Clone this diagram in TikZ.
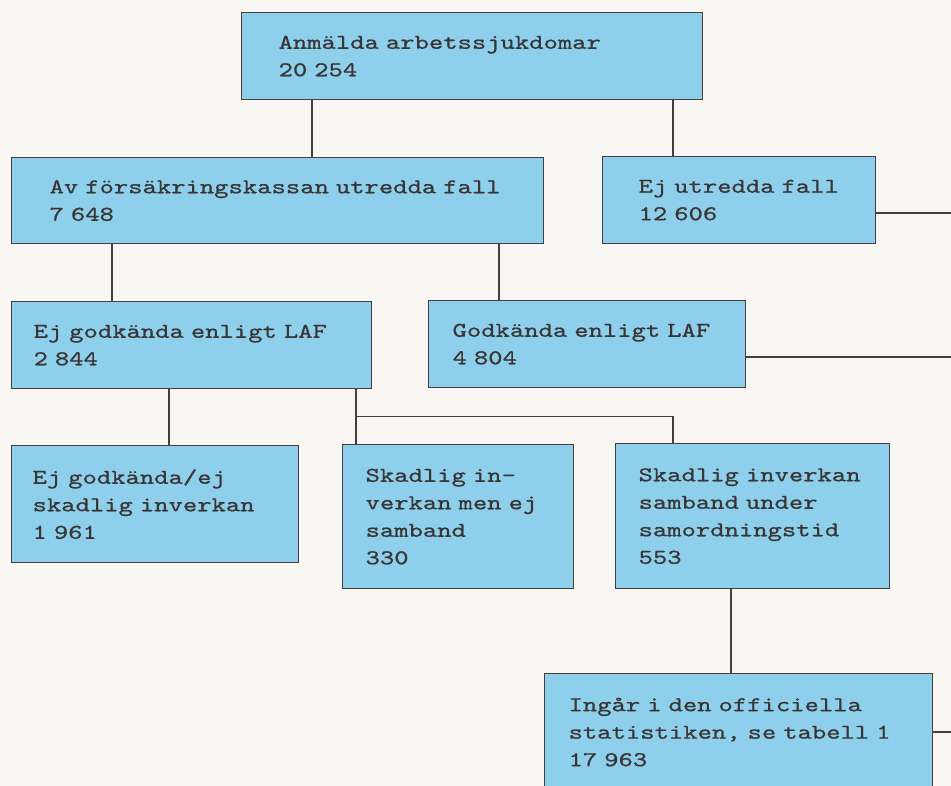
\documentclass[tikz,border=0pt]{standalone}
\usepackage{fontspec}
\newfontfamily\tw{lmmono10-regular.otf}[FakeStretch=1.3,FakeBold=0.8]
\definecolor{boxblue}{RGB}{142,208,236}
\definecolor{edge}{RGB}{72,62,62}
\definecolor{ink}{RGB}{58,54,54}
\definecolor{paper}{RGB}{248,247,243}
\tikzset{
  box/.style={draw=edge, fill=boxblue, line width=1.2pt, anchor=north west,
    align=left, text=ink, inner ysep=0pt,
    font=\tw\fontsize{21}{27.5}\selectfont},
  link/.style={draw=edge, line width=1.1pt}
}
\begin{document}
\begin{tikzpicture}[x=1pt,y=-1pt]
\fill[paper] (0,0) rectangle (951,786);
\useasboundingbox (0,0) rectangle (951,786);

% top:
\node[box, text width=387pt, inner xsep=37pt, minimum height=87pt] (anm) at (241,12)
  {Anmälda arbetssjukdomar\\20 254};

% second row:
\node[box, text width=456pt, inner xsep=38pt, minimum height=86pt] (utr) at (11,157)
  {Av försäkringskassan utredda fall\\7 648};
\node[box, text width=201pt, inner xsep=36pt, minimum height=87pt] (ejutr) at (602,156)
  {Ej utredda fall\\12 606};

% third row:
\node[box, text width=316pt, inner xsep=22pt, minimum height=87pt] (ejgod) at (11,301)
  {Ej godkända enligt LAF\\2 844};
\node[box, text width=269pt, inner xsep=24pt, minimum height=87pt] (god) at (428,300)
  {Godkända enligt LAF\\4 804};

% fourth row:
\node[box, text width=245pt, inner xsep=21pt, minimum height=117pt] (ejskad) at (11,445)
  {Ej godkända/ej\\skadlig inverkan\\1 961};
\node[box, text width=185pt, inner xsep=23pt, minimum height=144pt] (skadej) at (342,444)
  {Skadlig in-\\verkan men ej\\samband\\330};
\node[box, text width=228pt, inner xsep=23pt, minimum height=145pt] (skadsam) at (615,443)
  {Skadlig inverkan\\samband under\\samordningstid\\553};

% bottom:
\node[box, text width=340pt, inner xsep=24pt, minimum height=117pt] (ingar) at (544,673)
  {Ingår i den officiella\\statistiken, se tabell 1\\17 963};

% free ends at the right edge:
\coordinate (ejutrout) at (955,213);
\coordinate (godout) at (955,357);
\coordinate (ingarout) at (955,732);

% connectors:
\draw[link] ([xshift=301pt]utr.north west) -- ([xshift=301pt]utr.north west |- anm.south);
\draw[link] ([xshift=71pt]ejutr.north west) -- ([xshift=71pt]ejutr.north west |- anm.south);
\draw[link] ([xshift=101pt]ejgod.north west) -- ([xshift=101pt]ejgod.north west |- utr.south);
\draw[link] ([xshift=71pt]god.north west) -- ([xshift=71pt]god.north west |- utr.south);
\draw[link] ([xshift=158pt]ejskad.north west) -- ([xshift=158pt]ejskad.north west |- ejgod.south);
\draw[link] ([xshift=14pt]skadej.north west |- ejgod.south) -- ([xshift=14pt]skadej.north west);
\draw[link] ([xshift=14pt]skadej.north west |- ejgod.south) ++(0,27) -| ([xshift=58pt]skadsam.north west);
\draw[link] ([xshift=116pt]skadsam.south west) -- ([xshift=116pt]skadsam.south west |- ingar.north);
\draw[link] (ejutr.east |- ejutrout) -- (ejutrout);
\draw[link] (god.east |- godout) -- (godout);
\draw[link] (ingar.east |- ingarout) -- (ingarout);
\end{tikzpicture}
\end{document}
